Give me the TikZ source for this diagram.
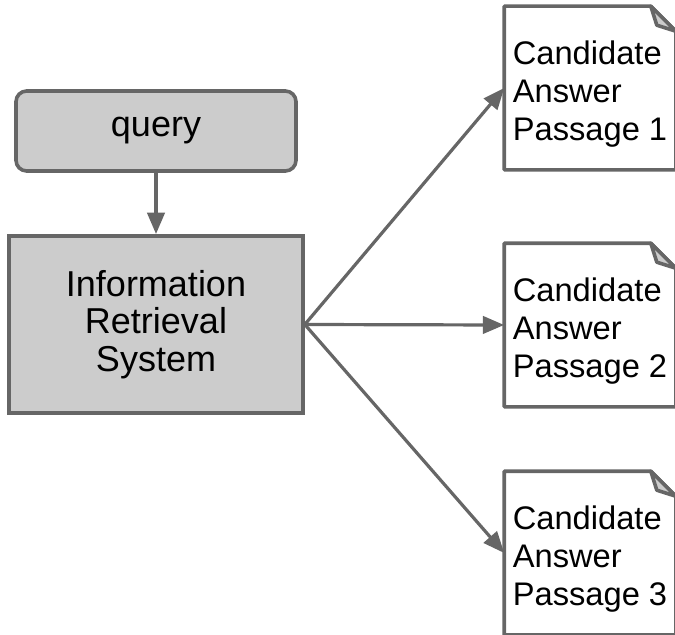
\documentclass[tikz,border=0pt]{standalone}
\usepackage{fontspec}
\setmainfont{Liberation Sans}
\usetikzlibrary{arrows.meta,calc}
\definecolor{boxgray}{HTML}{CCCCCC}
\definecolor{linegray}{HTML}{666666}

\begin{document}
\begin{tikzpicture}[x=0.75pt, y=-0.75pt, line width=2.7pt,
    box/.style = {draw=linegray, fill=boxgray, align=center, font=\fontsize{27}{28.3}\selectfont},
    doc/.style = {minimum width=126pt, minimum height=120pt},
    doctext/.style = {align=left, yshift=-4.5pt, font=\fontsize{24.5}{28.5}\selectfont},
    arr/.style = {draw=linegray, line width=2.4pt, -{Triangle[length=16pt, width=13pt]}}]
    \useasboundingbox (0,0) rectangle (675,635);

    \node[box, rounded corners=8pt, minimum width=210pt, minimum height=60pt] (q) at (156,131) {query};
    \node[box, minimum width=220.5pt, minimum height=133pt] (irs) at (156,324.5) {Information\\Retrieval\\System};

    \node[doc, label={[doctext]center:Candidate\\Answer\\Passage 1}] (p1) at (590,88) {};
    \node[doc, label={[doctext]center:Candidate\\Answer\\Passage 2}] (p2) at (590,325) {};
    \node[doc, label={[doctext]center:Candidate\\Answer\\Passage 3}] (p3) at (590,553) {};

    % folded page outlines
    \foreach \p in {p1,p2,p3} {
        \draw[linegray, line join=round] (\p.north west) -- ($(\p.north east)+(-25,0)$) -- ($(\p.north east)+(0,25)$) -- (\p.south east) -- (\p.south west) -- cycle;
        \draw[linegray, fill=boxgray, line join=round] ($(\p.north east)+(-25,0)$) -- ($(\p.north east)+(-19,19)$) -- ($(\p.north east)+(0,25)$) -- cycle;
    }

    \draw[arr] (q) -- (irs);
    \draw[arr] (irs.east) -- (p1.west);
    \draw[arr] (irs.east) -- (p2.west);
    \draw[arr] (irs.east) -- (p3.west);
\end{tikzpicture}
\end{document}
